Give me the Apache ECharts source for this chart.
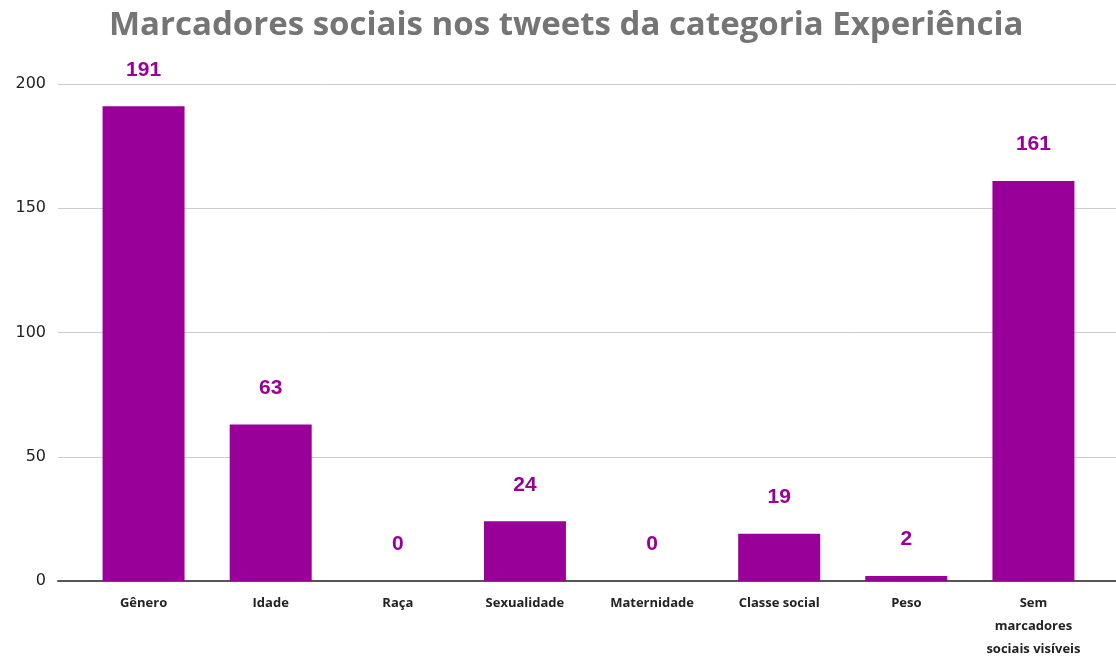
<!DOCTYPE html>
<html>
<head>
<meta charset="utf-8">
<script src="https://cdn.jsdelivr.net/npm/echarts@6/dist/echarts.min.js"></script>
<style>html,body{margin:0;padding:0;background:#fff}#c{width:1116px;height:662px}</style>
</head>
<body>
<div id="c"></div>
<script>
const titleText = 'Marcadores sociais nos tweets da categoria Experiência';
const categories = ['Gênero', 'Idade', 'Raça', 'Sexualidade', 'Maternidade', 'Classe social', 'Peso', 'Sem\nmarcadores\nsociais visíveis'];
const values = [191, 63, 0, 24, 0, 19, 2, 161];
const yTicks = [0, 50, 100, 150, 200];

const chart = echarts.init(document.getElementById('c'));
chart.setOption({
  backgroundColor: '#fff',
  animation: false,
  title: {
    text: titleText, left: 104, top: 4,
    textStyle: { fontFamily: 'Open Sans', fontWeight: 'bold', fontSize: 33, color: '#757575' }
  },
  grid: [
    { left: 58, right: 0, top: 84, bottom: 81 },
    { left: 80, right: 19, top: 84, bottom: 81 }
  ],
  xAxis: [
    { gridIndex: 0, type: 'category', data: [''], axisLine: { lineStyle: { color: '#555', width: 2 } },
      axisTick: { show: false }, axisLabel: { show: false } },
    { gridIndex: 1, type: 'category', data: categories, axisLine: { show: false }, axisTick: { show: false },
      axisLabel: { interval: 0, margin: 11, fontFamily: 'Open Sans', fontWeight: 'bold', fontSize: 13, color: '#222', lineHeight: 23 } }
  ],
  yAxis: [
    { gridIndex: 0, type: 'value', min: yTicks[0], max: yTicks[yTicks.length - 1], interval: 50,
      axisLine: { show: false }, axisTick: { show: false },
      splitLine: { lineStyle: { color: '#cccccc', width: 1 } },
      axisLabel: { margin: 12, fontFamily: 'DejaVu Sans', fontSize: 16, color: '#222' } },
    { gridIndex: 1, type: 'value', min: yTicks[0], max: yTicks[yTicks.length - 1], interval: 50, show: false }
  ],
  series: [{
    type: 'bar', xAxisIndex: 1, yAxisIndex: 1, data: values, barWidth: 82,
    itemStyle: { color: '#990099' },
    label: { show: true, position: 'top', distance: 26, fontFamily: 'Liberation Sans', fontWeight: 'bold', fontSize: 21, color: '#990099' }
  }]
});
</script>
</body>
</html>
